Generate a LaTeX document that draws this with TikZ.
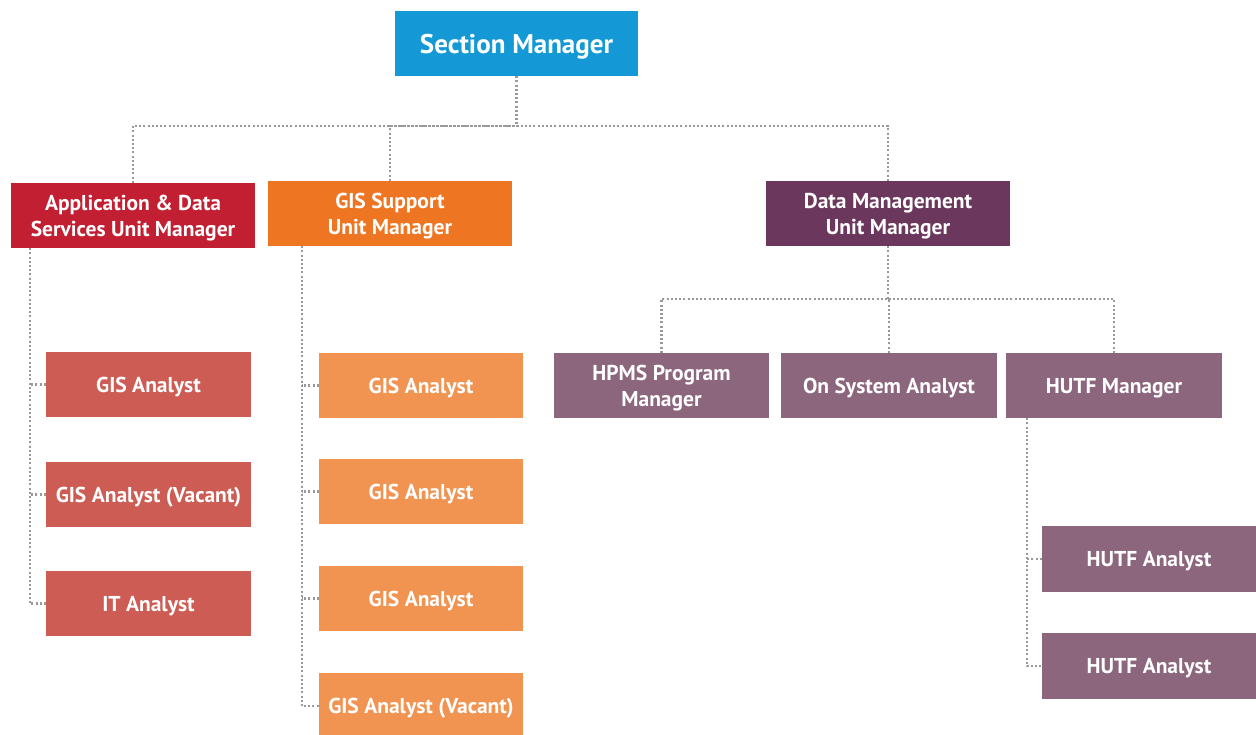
\documentclass[tikz,border=0pt]{standalone}
\usepackage{fontspec}
\setmainfont{PT Sans}
\definecolor{cSM}{HTML}{1499D6}
\definecolor{cApp}{HTML}{C21F32}
\definecolor{cGis}{HTML}{EE7623}
\definecolor{cDm}{HTML}{6C375C}
\definecolor{cAppL}{HTML}{CD5D54}
\definecolor{cGisL}{HTML}{F19452}
\definecolor{cDmL}{HTML}{8C667D}
\definecolor{cLine}{HTML}{999999}
\begin{document}
\begin{tikzpicture}[x=1pt,y=-1pt,
  box/.style={rectangle,inner sep=0pt,text=white,align=center,
    font=\fontsize{21.5}{26}\selectfont\bfseries,text depth=0pt},
  conn/.style={draw=cLine,line width=2.2pt,dash pattern=on 2pt off 2.2pt}]
\clip (0,0) rectangle (1256,734);
\fill[white] (0,0) rectangle (1256,734);
% top
\node[box,fill=cSM,minimum width=243pt,minimum height=65pt,font=\fontsize{27}{30}\selectfont\bfseries] (sm) at (516.5,43.5) {Section Manager};
% second level
\node[box,fill=cApp,minimum width=244pt,minimum height=65pt] (app) at (133,215.5) {Application \& Data\\Services Unit Manager};
\node[box,fill=cGis,minimum width=244pt,minimum height=65pt] (gis) at (390,213.5) {GIS Support\\Unit Manager};
\node[box,fill=cDm,minimum width=244pt,minimum height=65pt] (dm) at (888,213.5) {Data Management\\Unit Manager};
% app children
\node[box,fill=cAppL,minimum width=205pt,minimum height=65pt] (a1) at (148.5,384.5) {GIS Analyst};
\node[box,fill=cAppL,minimum width=205pt,minimum height=65pt] (a2) at (148.5,494.5) {GIS Analyst (Vacant)};
\node[box,fill=cAppL,minimum width=205pt,minimum height=65pt] (a3) at (148.5,603.5) {IT Analyst};
% gis children
\node[box,fill=cGisL,minimum width=204pt,minimum height=65pt] (g1) at (421,385.5) {GIS Analyst};
\node[box,fill=cGisL,minimum width=204pt,minimum height=65pt] (g2) at (421,491.5) {GIS Analyst};
\node[box,fill=cGisL,minimum width=204pt,minimum height=65pt] (g3) at (421,598.5) {GIS Analyst};
\node[box,fill=cGisL,minimum width=204pt,minimum height=66pt] (g4) at (421,706) {GIS Analyst (Vacant)};
% dm children
\node[box,fill=cDmL,minimum width=215pt,minimum height=65pt] (hp) at (661.5,385.5) {HPMS Program\\Manager};
\node[box,fill=cDmL,minimum width=216pt,minimum height=65pt] (os) at (889,385.5) {On System Analyst};
\node[box,fill=cDmL,minimum width=216pt,minimum height=65pt] (hm) at (1114,385.5) {HUTF Manager};
\node[box,fill=cDmL,minimum width=214pt,minimum height=66pt] (h1) at (1149,559) {HUTF Analyst};
\node[box,fill=cDmL,minimum width=214pt,minimum height=66pt] (h2) at (1149,666) {HUTF Analyst};
% connectors
\coordinate (b1) at (516.5,126);
\draw[conn] (sm.south) -- (b1);
\draw[conn] (app.north) |- (b1);
\draw[conn] (gis.north) |- (b1);
\draw[conn] (dm.north) |- (b1);
\coordinate (b2) at (888,299);
\draw[conn] (dm.south) -- (b2);
\draw[conn] (hp.north) |- (b2);
\draw[conn] (os.north) |- (b2);
\draw[conn] (hm.north) |- (b2);
\coordinate (ta) at ([xshift=19pt]app.south west);
\draw[conn] (ta) |- (a3.west);
\draw[conn] (a1.west) -- (a1.west -| ta);
\draw[conn] (a2.west) -- (a2.west -| ta);
\coordinate (tg) at ([xshift=34pt]gis.south west);
\draw[conn] (tg) |- (g4.west);
\draw[conn] (g1.west) -- (g1.west -| tg);
\draw[conn] (g2.west) -- (g2.west -| tg);
\draw[conn] (g3.west) -- (g3.west -| tg);
\coordinate (th) at ([xshift=21pt]hm.south west);
\draw[conn] (th) |- (h2.west);
\draw[conn] (h1.west) -- (h1.west -| th);
\end{tikzpicture}
\end{document}
